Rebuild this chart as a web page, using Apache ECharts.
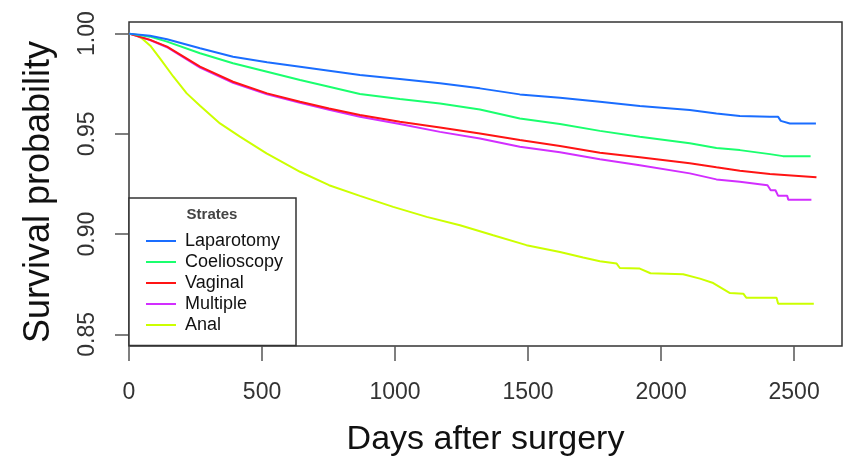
<!DOCTYPE html>
<html>
<head>
<meta charset="utf-8">
<script src="https://cdn.jsdelivr.net/npm/echarts@6/dist/echarts.min.js"></script>
<style>
  html, body { margin: 0; padding: 0; background: #fff; }
  #container { width: 843px; height: 457px; }
</style>
</head>
<body>
<div id="container"></div>
<script>
  // survival curves (days after surgery, survival probability)
  var strates = ['Laparotomy', 'Coelioscopy', 'Vaginal', 'Multiple', 'Anal'];
  var colors = ['#1a6dff', '#1aff6e', '#ff1414', '#d22eff', '#ccff00'];

  var lapDays = [0, 79, 143, 267, 391, 519, 643, 752, 868, 1018, 1169, 1319, 1469, 1620, 1770, 1920, 2108, 2208, 2296, 2409, 2440, 2450, 2484, 2582];
  var lapSurv = [1.0, 0.9989, 0.9972, 0.9927, 0.9885, 0.9857, 0.9835, 0.9815, 0.9794, 0.9774, 0.9752, 0.9727, 0.9697, 0.968, 0.966, 0.9639, 0.9619, 0.9602, 0.9589, 0.9585, 0.9585, 0.9565, 0.9552, 0.9552];

  var coeDays = [0, 79, 143, 267, 391, 519, 643, 752, 868, 1018, 1169, 1319, 1469, 1620, 1770, 1920, 2108, 2208, 2296, 2409, 2458, 2562];
  var coeSurv = [1.0, 0.9985, 0.996, 0.9902, 0.9852, 0.981, 0.9769, 0.9735, 0.9699, 0.9674, 0.9652, 0.9622, 0.9577, 0.9549, 0.9515, 0.9486, 0.9453, 0.943, 0.9419, 0.9399, 0.9389, 0.9389];

  var vagDays = [0, 79, 143, 267, 391, 519, 643, 752, 868, 1018, 1169, 1319, 1469, 1620, 1770, 1920, 2108, 2208, 2296, 2409, 2584];
  var vagSurv = [1.0, 0.9969, 0.9935, 0.9835, 0.976, 0.9702, 0.966, 0.9627, 0.9594, 0.956, 0.9532, 0.9502, 0.9469, 0.9439, 0.9406, 0.9383, 0.9353, 0.9333, 0.9316, 0.93, 0.9284];

  var mulDays = [0, 79, 143, 267, 391, 519, 643, 752, 868, 1018, 1169, 1319, 1469, 1620, 1770, 1920, 2108, 2208, 2296, 2400, 2412, 2430, 2440, 2474, 2478, 2565];
  var mulSurv = [1.0, 0.9968, 0.9932, 0.983, 0.9755, 0.9698, 0.9655, 0.962, 0.9585, 0.9549, 0.951, 0.9477, 0.9436, 0.9408, 0.9373, 0.9344, 0.9303, 0.9273, 0.9261, 0.9244, 0.9219, 0.9219, 0.9191, 0.9191, 0.9172, 0.9172];

  var anaDays = [0, 25, 50, 80, 117, 167, 217, 267, 342, 417, 517, 643, 752, 868, 993, 1119, 1244, 1369, 1494, 1620, 1707, 1770, 1833, 1845, 1920, 1960, 2083, 2146, 2196, 2259, 2309, 2320, 2434, 2440, 2574];
  var anaSurv = [1.0, 0.9993, 0.9975, 0.994, 0.9875, 0.9785, 0.9702, 0.964, 0.9552, 0.9486, 0.9403, 0.9311, 0.9244, 0.9191, 0.9136, 0.9086, 0.9044, 0.8994, 0.8945, 0.8911, 0.8883, 0.8865, 0.8853, 0.8831, 0.8828, 0.8805, 0.88, 0.8778, 0.8756, 0.8706, 0.8703, 0.8683, 0.8683, 0.8653, 0.8653];

  var xTicks = [0, 500, 1000, 1500, 2000, 2500];
  var yTicks = [0.85, 0.90, 0.95, 1.00];

  var allDays = [lapDays, coeDays, vagDays, mulDays, anaDays];
  var allSurv = [lapSurv, coeSurv, vagSurv, mulSurv, anaSurv];

  function zip(d, s) {
    var out = [];
    for (var i = 0; i < d.length; i++) out.push([d[i], s[i]]);
    return out;
  }

  var font = 'Liberation Sans, Arial, sans-serif';
  var myChart = echarts.init(document.getElementById('container'));

  var series = strates.map(function (name, i) {
    return {
      name: name,
      type: 'line',
      data: zip(allDays[i], allSurv[i]),
      symbol: 'none',
      z: 10 - i,
      lineStyle: { color: colors[i], width: 2 },
      itemStyle: { color: colors[i] }
    };
  });

  var option = {
    animation: false,
    textStyle: { fontFamily: font },
    grid: {
      left: 129, right: 1, top: 22, bottom: 111,
      outerBoundsMode: 'none',
      containLabel: false,
      show: true, borderColor: '#333', borderWidth: 1.5,
      backgroundColor: 'transparent'
    },
    xAxis: {
      type: 'value',
      min: 0,
      max: 2680,
      name: 'Days after surgery',
      nameLocation: 'middle',
      nameGap: 77,
      nameTextStyle: { fontSize: 34, color: '#111', fontFamily: font },
      axisLine: { show: false },
      splitLine: { show: false },
      axisTick: {
        show: true, length: 15, inside: false,
        customValues: xTicks,
        lineStyle: { color: '#555', width: 1.5 }
      },
      axisLabel: {
        customValues: xTicks,
        margin: 35,
        fontSize: 23,
        color: '#333',
        fontFamily: font,
        formatter: function (v) { return String(v); }
      }
    },
    yAxis: {
      type: 'value',
      min: 0.8442,
      max: 1.0058,
      name: 'Survival probability',
      nameLocation: 'middle',
      nameGap: 72,
      nameTextStyle: { fontSize: 36, color: '#111', fontFamily: font, padding: [0, 16, 0, 0] },
      axisLine: { show: false },
      splitLine: { show: false },
      axisTick: {
        show: true, length: 14, inside: false,
        customValues: yTicks,
        lineStyle: { color: '#555', width: 1.5 }
      },
      axisLabel: {
        customValues: yTicks,
        rotate: 90,
        margin: 30,
        fontSize: 23,
        color: '#333',
        fontFamily: font,
        formatter: function (v) { return v.toFixed(2); }
      }
    },
    legend: {
      orient: 'vertical',
      left: 146,
      top: 232,
      padding: 0,
      z: 100,
      icon: 'rect',
      itemWidth: 30,
      itemHeight: 2,
      itemGap: 3,
      data: strates,
      textStyle: { fontSize: 18, color: '#111', fontFamily: font, padding: [0, 0, 0, 4] }
    },
    graphic: [
      {
        type: 'rect',
        shape: { x: 129, y: 198, width: 167, height: 147.5 },
        style: { fill: '#fff', stroke: '#333', lineWidth: 1.5 },
        z: 50
      },
      {
        type: 'text',
        x: 212, y: 215,
        style: {
          text: 'Strates', fontSize: 15, fontWeight: 'bold', fill: '#444',
          fontFamily: font, align: 'center', verticalAlign: 'middle'
        },
        z: 51
      }
    ],
    series: series
  };

  myChart.setOption(option);
</script>
</body>
</html>
